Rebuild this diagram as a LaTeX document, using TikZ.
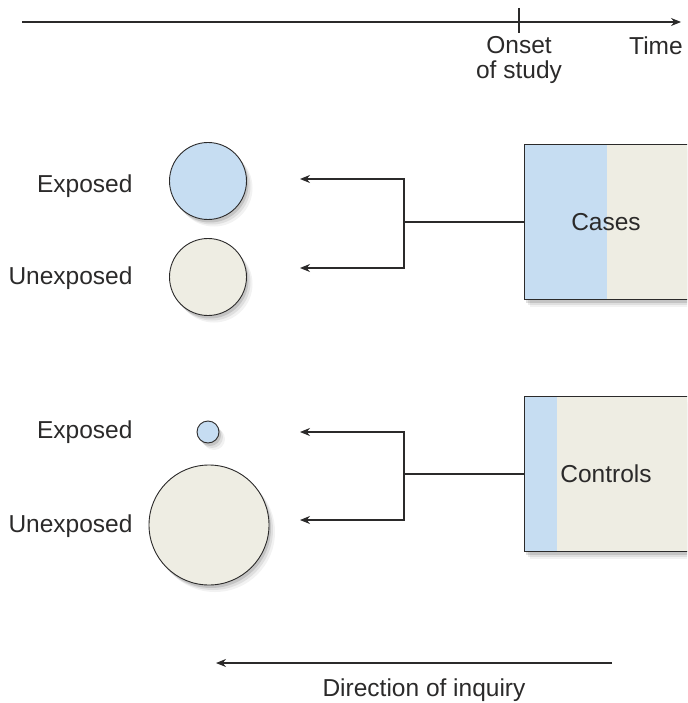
\documentclass[tikz,border=0pt]{standalone}
\usepackage{fontspec}
\setmainfont{Liberation Sans}
\usetikzlibrary{arrows.meta, shadows}

\definecolor{expblue}{HTML}{C6DDF2}
\definecolor{unexbeige}{HTML}{EEEDE3}
\definecolor{ink}{HTML}{2B2A2A}

\begin{document}
\begin{tikzpicture}[x=1pt, y=-1pt, >={Stealth[length=10pt, width=8pt]},
	line width=1.1pt, draw=ink, text=ink,
	every node/.style={font=\fontsize{24.5}{25}\selectfont, inner sep=0pt},
	% three stacked shadows give a soft edge
	soft shadow/.style={
		drop shadow={shadow xshift=6pt, shadow yshift=-7pt, fill=black, opacity=0.05},
		drop shadow={shadow xshift=4pt, shadow yshift=-5pt, fill=black, opacity=0.08},
		drop shadow={shadow xshift=2pt, shadow yshift=-3pt, fill=black, opacity=0.12}},
	group/.style={circle, draw=ink, line width=0.9pt, soft shadow},
	studybox/.style={rectangle, draw=ink, line width=0.9pt, fill=unexbeige,
		minimum width=166pt, minimum height=155pt, anchor=west, soft shadow}]
	\useasboundingbox (0,0) rectangle (687,703);
	\clip (0,0) rectangle (687,703);

	% time axis
	\coordinate (tstart) at (22,22);
	\coordinate (tend) at (681,22);
	\coordinate (onset) at (519,22);
	\draw[->, ink] (tstart) -- (tend);
	\draw[ink] ([yshift=14pt]onset) -- ([yshift=-11pt]onset);
	\node[anchor=north, align=center] (onsetlbl) at (519,36) {Onset\\of study};
	\node (timelbl) at (656,46) {Time};

	% cases
	\node[studybox, path picture={\fill[expblue]
		(path picture bounding box.north west) rectangle
		([xshift=83pt]path picture bounding box.south west);}]
		(cases) at (524,222) {};
	\node (caseslbl) at (606,222) {Cases};
	\node[group, fill=expblue, minimum size=77pt] (caseexp) at (208,181) {};
	\node[group, fill=unexbeige, minimum size=77pt] (caseunexp) at (208,277) {};
	\node[anchor=east] (caseexplbl) at (133,186) {Exposed};
	\node[anchor=east] (caseunexplbl) at (133,278) {Unexposed};

	\coordinate (casefork) at (404,222);
	\coordinate (casetop) at (300,179);
	\coordinate (casebot) at (300,268);
	\draw[ink] (cases.west) -- (casefork);
	\draw[->, ink] (casefork) |- (casetop);
	\draw[->, ink] (casefork) |- (casebot);

	% controls
	\node[studybox, path picture={\fill[expblue]
		(path picture bounding box.north west) rectangle
		([xshift=33pt]path picture bounding box.south west);}]
		(controls) at (524,474) {};
	\node (controlslbl) at (606,474) {Controls};
	\node[group, fill=expblue, minimum size=22pt] (ctrlexp) at (208,432) {};
	\node[group, fill=unexbeige, minimum size=120pt] (ctrlunexp) at (209,525) {};
	\node[anchor=east] (ctrlexplbl) at (133,432) {Exposed};
	\node[anchor=east] (ctrlunexplbl) at (133,526) {Unexposed};

	\coordinate (ctrlfork) at (404,474);
	\coordinate (ctrltop) at (300,432);
	\coordinate (ctrlbot) at (300,520);
	\draw[ink] (controls.west) -- (ctrlfork);
	\draw[->, ink] (ctrlfork) |- (ctrltop);
	\draw[->, ink] (ctrlfork) |- (ctrlbot);

	% direction of inquiry
	\coordinate (inqstart) at (612,663);
	\coordinate (inqend) at (216,663);
	\draw[->, ink] (inqstart) -- (inqend);
	\node (inqlbl) at (424,690) {Direction of inquiry};
\end{tikzpicture}
\end{document}
